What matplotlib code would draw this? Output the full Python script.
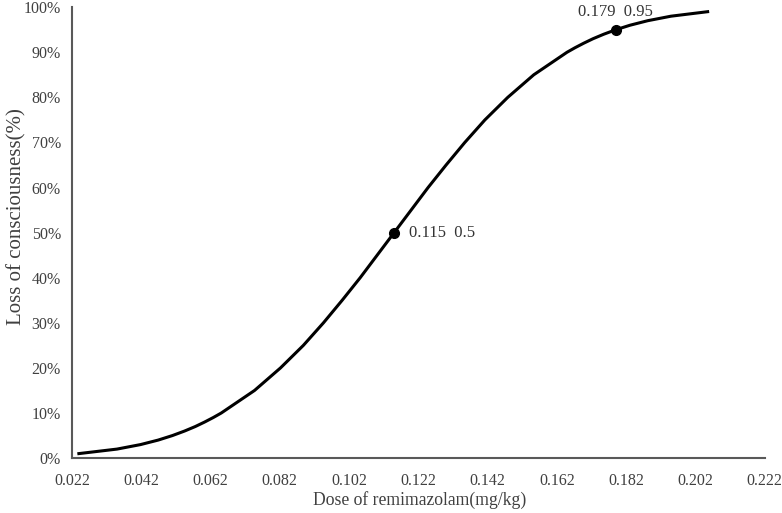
import numpy as np
import matplotlib.pyplot as plt
from matplotlib.ticker import FuncFormatter

# dose (mg/kg) at each response level
dose = [0.0240, 0.0350, 0.0418, 0.0469, 0.0510, 0.0545, 0.0576, 0.0603, 0.0628,
        0.0651, 0.0747, 0.0822, 0.0888, 0.0946, 0.1000, 0.1052, 0.1101, 0.1150,
        0.1199, 0.1248, 0.1300, 0.1354, 0.1412, 0.1478, 0.1553, 0.1649, 0.1672,
        0.1697, 0.1724, 0.1755, 0.1790, 0.1831, 0.1882, 0.1949, 0.2055]
response = [0.01, 0.02, 0.03, 0.04, 0.05, 0.06, 0.07, 0.08, 0.09,
            0.10, 0.15, 0.20, 0.25, 0.30, 0.35, 0.40, 0.45, 0.50,
            0.55, 0.60, 0.65, 0.70, 0.75, 0.80, 0.85, 0.90, 0.91,
            0.92, 0.93, 0.94, 0.95, 0.96, 0.97, 0.98, 0.99]

marked_dose = [0.115, 0.179]
marked_resp = [0.5, 0.95]
marked_text = ['0.115  0.5', '0.179  0.95']

x_ticks = [0.022, 0.042, 0.062, 0.082, 0.102, 0.122, 0.142, 0.162, 0.182, 0.202, 0.222]

plt.rcParams['font.family'] = ['Liberation Serif', 'DejaVu Serif']

fig = plt.figure(figsize=(7.82, 5.13), dpi=100)
ax = fig.add_axes([0.092, 0.107, 0.886, 0.879])

ax.plot(dose, response, color='black', linewidth=2.2, solid_joinstyle='round')
ax.plot(marked_dose, marked_resp, 'o', color='black', markersize=7)

ax.annotate(marked_text[0], (marked_dose[0], marked_resp[0]), xytext=(11, 0),
            textcoords='offset points', ha='left', va='center', fontsize=12, color='#333333')
ax.annotate(marked_text[1], (marked_dose[1], marked_resp[1]), xytext=(0, 7),
            textcoords='offset points', ha='center', va='bottom', fontsize=12, color='#333333')

ax.set_xlim(0.022, 0.222)
ax.set_ylim(0, 1.0)
ax.set_xticks(x_ticks)
ax.set_xticklabels([f'{t:.3f}' for t in x_ticks])
ax.set_yticks(np.arange(0, 1.01, 0.1))
ax.yaxis.set_major_formatter(FuncFormatter(lambda v, p: f'{v*100:.0f}%'))

for s in ['top', 'right']:
    ax.spines[s].set_visible(False)
for s in ['left', 'bottom']:
    ax.spines[s].set_color('#595959')
    ax.spines[s].set_linewidth(1.5)
ax.tick_params(length=0, labelsize=11.5, labelcolor='#404040')
ax.tick_params(axis='x', pad=11)
ax.tick_params(axis='y', pad=8)

ax.set_xlabel('Dose of remimazolam(mg/kg)', fontsize=12.7, color='#404040')
ax.set_ylabel('Loss of consciousness(%)', fontsize=15, color='#404040')
ax.xaxis.set_label_coords(0.502, -0.072)
ax.yaxis.set_label_coords(-0.066, 0.535)

fig.savefig('out.png', dpi=100)
